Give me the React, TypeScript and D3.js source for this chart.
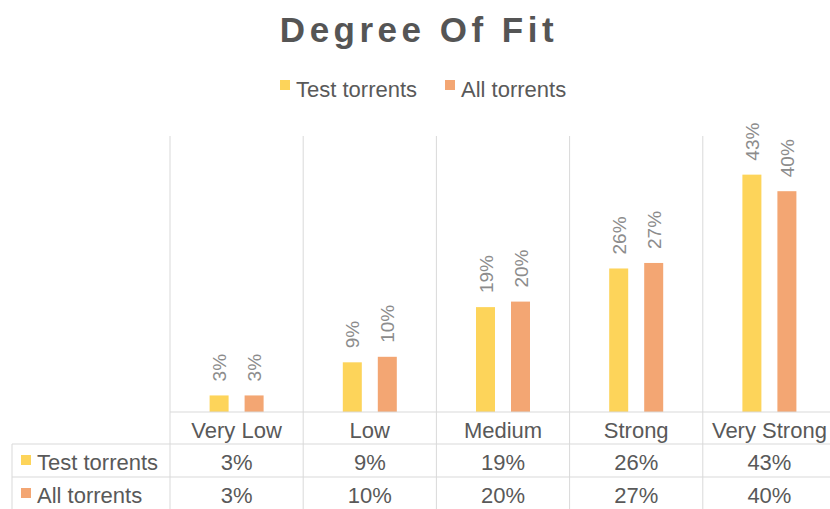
import React from "react";
import * as d3 from "d3";

const categories = ["Very Low", "Low", "Medium", "Strong", "Very Strong"];
const seriesNames = ["Test torrents", "All torrents"];
const testValues = [3, 9, 19, 26, 43];
const allValues = [3, 10, 20, 27, 40];
const colors = ["#FDD45A", "#F3A673"];

const W = 830;
const H = 509;

export default function App() {
  const plotLeft = 170;
  const plotRight = 836;
  const baseY = 412;
  const topY = 136;
  const x = d3.scaleBand<string>().domain(categories).range([plotLeft, plotRight]).padding(0);
  const y = d3.scaleLinear().domain([0, 50]).range([baseY, topY]);
  const bw = 19;
  const series = [testValues, allValues];
  const grid = "#d9d9d9";
  const text = "#595959";
  const font = "'Liberation Sans', Arial, sans-serif";
  const rowY = [412, 444, 477, 509];
  const tableLeft = 12;
  const fs = 22;

  return (
    <svg width={W} height={H} style={{ position: "absolute", left: 0, top: 0, background: "#fff" }} fontFamily={font}>
      <rect width={W} height={H} fill="#fff" />
      <text x={419} y={42} textAnchor="middle" fontSize={35} fontWeight="bold" fill="#555" letterSpacing={4.5}>
        Degree Of Fit
      </text>
      {/* legend */}
      {seriesNames.map((s, i) => {
        const lx = [280, 445][i];
        return (
          <g key={s}>
            <rect x={lx} y={80} width={10} height={10} fill={colors[i]} />
            <text x={lx + 16} y={97} fontSize={22} fill={text}>{s}</text>
          </g>
        );
      })}
      {/* vertical gridlines */}
      {categories.map((c) => (
        <line key={c} x1={x(c)!} x2={x(c)!} y1={topY} y2={H} stroke={grid} strokeWidth={1} />
      ))}
      {/* bars */}
      {categories.map((c, ci) =>
        series.map((vals, si) => {
          const cx = x(c)! + x.bandwidth() / 2 + (si === 0 ? -17.5 : 17.5);
          const v = vals[ci];
          return (
            <g key={c + si}>
              <rect x={cx - bw / 2} y={y(v)} width={bw} height={baseY - y(v)} fill={colors[si]} />
              <text
                transform={`translate(${cx + 7},${y(v) - 14}) rotate(-90)`}
                fontSize={19}
                fill="#8c8c8c"
              >
                {v}%
              </text>
            </g>
          );
        })
      )}
      {/* table lines */}
      <line x1={plotLeft} x2={W} y1={rowY[0]} y2={rowY[0]} stroke={grid} />
      <line x1={tableLeft} x2={W} y1={rowY[1]} y2={rowY[1]} stroke={grid} />
      <line x1={tableLeft} x2={W} y1={rowY[2]} y2={rowY[2]} stroke={grid} />
      <line x1={tableLeft} x2={tableLeft} y1={rowY[1]} y2={H} stroke={grid} />
      {/* header */}
      {categories.map((c) => (
        <text key={c} x={x(c)! + x.bandwidth() / 2} y={438} textAnchor="middle" fontSize={fs} fill={text}>
          {c}
        </text>
      ))}
      {seriesNames.map((s, si) => (
        <g key={s}>
          <rect x={21} y={rowY[si + 1] + 11} width={10} height={10} fill={colors[si]} />
          <text x={37} y={rowY[si + 1] + 26} fontSize={fs} fill={text}>{s}</text>
          {categories.map((c, ci) => (
            <text key={c} x={x(c)! + x.bandwidth() / 2} y={rowY[si + 1] + 26} textAnchor="middle" fontSize={fs} fill={text}>
              {series[si][ci]}%
            </text>
          ))}
        </g>
      ))}
    </svg>
  );
}
